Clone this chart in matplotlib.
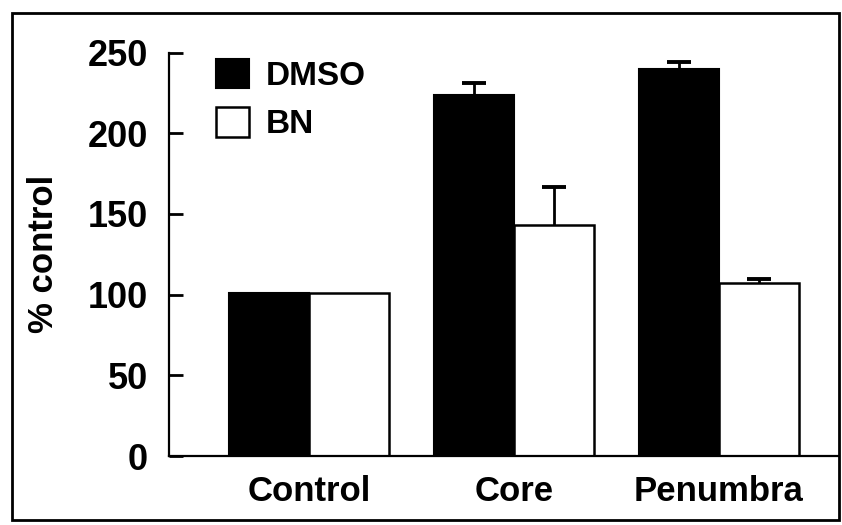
import numpy as np
import matplotlib
matplotlib.use("Agg")
from matplotlib import pyplot as plt
from matplotlib.patches import Patch, Rectangle

plt.rcParams['font.family'] = ['Liberation Sans', 'DejaVu Sans']
plt.rcParams['font.weight'] = 'bold'

# data
groups = ['Control', 'Core', 'Penumbra']
dmso = [101, 224, 240]
dmso_err = [0, 7, 4]
bn = [101, 143, 107]
bn_err = [0, 24, 3]

fig = plt.figure(figsize=(8.42, 5.25), dpi=100)
ax = fig.add_axes([0.2007, 0.1314, 0.7943, 0.7684])

x = np.arange(len(groups))
w = 0.39
cap = 0.06

ax.bar(x - w/2, dmso, w, color='black', edgecolor='black', linewidth=1.5, zorder=2)
ax.bar(x + w/2, bn, w, color='white', edgecolor='black', linewidth=1.8, zorder=2)

# one sided (upward) error bars, only a cap on top
for xs, vals, errs in [(x - w/2, dmso, dmso_err), (x + w/2, bn, bn_err)]:
    for xi, v, e in zip(xs, vals, errs):
        if e == 0:
            continue
        ax.vlines(xi, v, v + e, color='black', linewidth=2, zorder=1)
        ax.hlines(v + e, xi - cap, xi + cap, color='black', linewidth=2.8, zorder=1)

ax.set_xlim(-0.683, 2.58)
ax.set_ylim(0, 250)
ax.set_yticks([0, 50, 100, 150, 200, 250])
ax.set_xticks(x)
ax.set_xticklabels(groups)

for s in ['top', 'right']:
    ax.spines[s].set_visible(False)
ax.spines['left'].set_linewidth(1.6)
ax.spines['bottom'].set_linewidth(1.6)

ax.tick_params(axis='y', direction='in', length=10, width=2, pad=15, labelsize=26)
ax.tick_params(axis='x', length=0, pad=14, labelsize=25)
for lab in ax.get_xticklabels() + ax.get_yticklabels():
    lab.set_fontweight('bold')

ax.set_ylabel('% control', fontsize=25, fontweight='bold', labelpad=20)

handles = [Patch(facecolor='black', edgecolor='black', linewidth=1.5),
           Patch(facecolor='white', edgecolor='black', linewidth=1.8)]
ax.legend(handles, ['DMSO', 'BN'], loc='upper left', bbox_to_anchor=(0.07, 0.985),
          frameon=False, borderpad=0, borderaxespad=0, handlelength=1.0,
          handleheight=1.0, handletextpad=0.5, labelspacing=0.45,
          prop=dict(family='Liberation Sans', weight='bold', size=24))

# border round the whole scanned figure
fig.patches.append(Rectangle((0.014, 0.01), 0.982, 0.966, transform=fig.transFigure,
                             fill=False, edgecolor='black', linewidth=2))

plt.savefig('out.png', dpi=100)
